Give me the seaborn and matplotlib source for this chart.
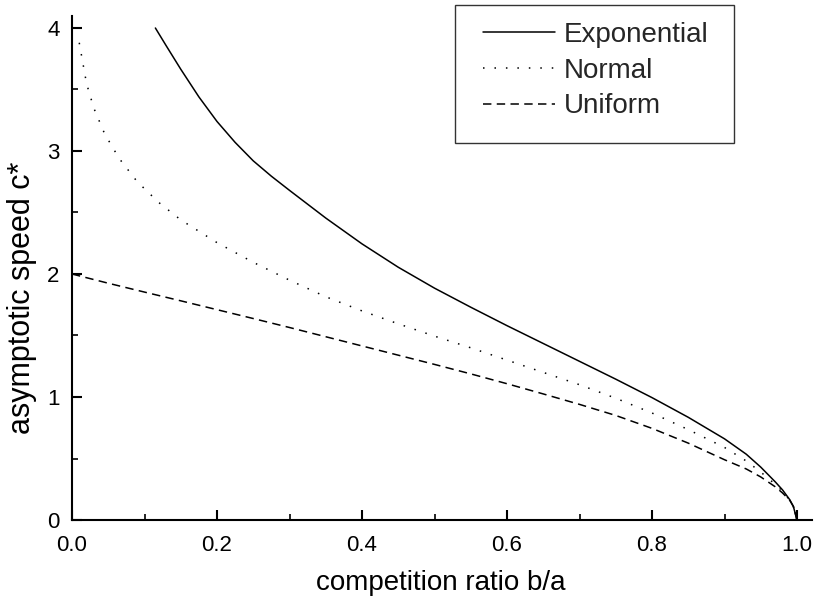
import matplotlib
matplotlib.use("Agg")
import matplotlib.pyplot as plt
from matplotlib.patches import Rectangle
import seaborn as sns
import pandas as pd
from matplotlib.ticker import MultipleLocator

sns.set_theme(style="ticks")
plt.rcParams['font.family'] = ['Liberation Sans', 'DejaVu Sans']

# ---- data ----
exp_x = [0.115, 0.13, 0.15, 0.175, 0.20, 0.225, 0.25, 0.275, 0.30, 0.35, 0.40, 0.45,
         0.50, 0.55, 0.60, 0.65, 0.70, 0.75, 0.80, 0.85, 0.90, 0.93, 0.95, 0.97,
         0.98, 0.99, 0.995, 1.0]
exp_y = [4.00, 3.855, 3.665, 3.44, 3.24, 3.07, 2.92, 2.795, 2.68, 2.455, 2.245, 2.055,
         1.885, 1.73, 1.58, 1.435, 1.29, 1.145, 0.995, 0.835, 0.66, 0.535, 0.43, 0.31,
         0.245, 0.165, 0.11, 0.0]

norm_x = [0.01, 0.02, 0.03, 0.045, 0.065, 0.09, 0.12, 0.15, 0.20, 0.25, 0.30, 0.35,
          0.40, 0.45, 0.50, 0.55, 0.60, 0.65, 0.70, 0.75, 0.80, 0.85, 0.90, 0.93,
          0.95, 0.97, 0.98, 0.99, 0.995, 1.0]
norm_y = [3.88, 3.55, 3.35, 3.14, 2.94, 2.75, 2.58, 2.44, 2.255, 2.095, 1.95, 1.815,
          1.70, 1.595, 1.495, 1.40, 1.30, 1.20, 1.10, 0.99, 0.87, 0.735, 0.59, 0.48,
          0.39, 0.29, 0.235, 0.16, 0.11, 0.0]

unif_x = [0.0, 0.05, 0.10, 0.15, 0.20, 0.25, 0.30, 0.35, 0.40, 0.45, 0.50, 0.55,
          0.60, 0.65, 0.70, 0.75, 0.80, 0.85, 0.90, 0.93, 0.95, 0.97, 0.98, 0.99,
          0.995, 1.0]
unif_y = [2.00, 1.925, 1.853, 1.782, 1.71, 1.638, 1.565, 1.49, 1.415, 1.34, 1.265, 1.188,
          1.108, 1.025, 0.94, 0.85, 0.745, 0.625, 0.49, 0.415, 0.35, 0.27, 0.22, 0.16,
          0.11, 0.0]

series_names = ["Exponential", "Normal", "Uniform"]
x_ticks = [0.0, 0.2, 0.4, 0.6, 0.8, 1.0]
y_ticks = [0, 1, 2, 3, 4]

df = pd.concat([
    pd.DataFrame({"ratio": exp_x, "speed": exp_y, "kernel": series_names[0]}),
    pd.DataFrame({"ratio": norm_x, "speed": norm_y, "kernel": series_names[1]}),
    pd.DataFrame({"ratio": unif_x, "speed": unif_y, "kernel": series_names[2]}),
], ignore_index=True)

W, H = 816, 599
fig = plt.figure(figsize=(W / 100, H / 100), dpi=100)
ax = fig.add_axes([72 / W, 1 - 520 / H, 739.5 / W, 504.3 / H])

sns.lineplot(data=df, x="ratio", y="speed", hue="kernel", style="kernel",
             hue_order=series_names, style_order=series_names,
             palette={n: "black" for n in series_names},
             dashes={"Exponential": "", "Normal": (1, 6.5), "Uniform": (5.5, 3.5)},
             estimator=None, sort=False, linewidth=1.1, legend=False, ax=ax)

ax.set_xlim(0, 1.02)
ax.set_ylim(0, 4.1)
ax.set_xticks(x_ticks)
ax.set_xticklabels([f"{t:.1f}" for t in x_ticks])
ax.set_yticks(y_ticks)
ax.set_yticklabels([str(t) for t in y_ticks])
ax.xaxis.set_minor_locator(MultipleLocator(0.1))
ax.yaxis.set_minor_locator(MultipleLocator(0.5))
ax.tick_params(which="major", direction="in", length=7.5, width=1.5,
               labelsize=16, color="black", labelcolor="black")
ax.tick_params(which="minor", direction="in", length=4.5, width=1.2, color="black")
ax.tick_params(axis="x", which="major", pad=11)
ax.tick_params(axis="y", which="major", pad=9)

for s in ["top", "right"]:
    ax.spines[s].set_visible(False)
for s in ["left", "bottom"]:
    ax.spines[s].set_linewidth(1.5)
    ax.spines[s].set_color("black")

ax.set_xlabel("competition ratio b/a", fontsize=20, color="black")
ax.set_ylabel("asymptotic speed c*", fontsize=22, color="black")
ax.xaxis.set_label_coords(0.4986, (520 - 570) / 504.3)
ax.yaxis.set_label_coords((37 - 72) / 739.5, (520 - 298) / 504.3)

leg = ax.legend(handles=ax.lines[:3], labels=series_names,
                loc="upper left", bbox_to_anchor=(483 / W, 1 - 22 / H),
                bbox_transform=fig.transFigure,
                fontsize=20, frameon=False, handlelength=2.6, handletextpad=0.3,
                labelspacing=0.35, borderpad=0, borderaxespad=0)

fig.patches.append(Rectangle((455 / W, 1 - 143 / H), 279 / W, 138 / H,
                             transform=fig.transFigure, fill=False,
                             edgecolor="#333333", linewidth=1.0, zorder=5))

fig.savefig("out.png", dpi=100, facecolor="white")
